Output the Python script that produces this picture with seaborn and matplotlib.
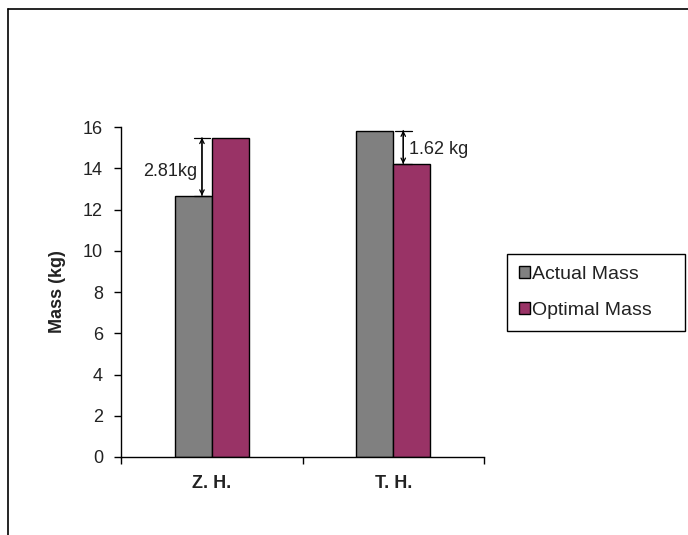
import matplotlib.pyplot as plt
import pandas as pd
import seaborn as sns
from matplotlib.lines import Line2D

categories = ["Z. H.", "T. H."]
series = ["Actual Mass", "Optimal Mass"]
actual_mass = [12.67, 15.83]
optimal_mass = [15.48, 14.21]
gap_labels = ["2.81kg", "1.62 kg"]
y_ticks = [0, 2, 4, 6, 8, 10, 12, 14, 16]

colors = {"Actual Mass": "#808080", "Optimal Mass": "#993366"}

df = pd.DataFrame({
    "category": categories * 2,
    "series": [series[0]] * 2 + [series[1]] * 2,
    "mass": actual_mass + optimal_mass,
})

sns.set_theme(style="white")
plt.rcParams["font.family"] = ["Liberation Sans", "DejaVu Sans"]

FS = 13

fig = plt.figure(figsize=(6.88, 5.35), dpi=100)
ax = fig.add_axes([0.1759, 0.1458, 0.5276, 0.6168])

sns.barplot(
    data=df, x="category", y="mass", hue="series", order=categories,
    hue_order=series, palette=colors, width=0.41, edgecolor="black",
    linewidth=1.0, saturation=1.0, ax=ax, legend=True,
)

ax.set_ylim(0, 16)
ax.set_xlim(-0.5, 1.5)
ax.set_yticks(y_ticks)
ax.set_yticklabels([str(t) for t in y_ticks], fontsize=FS, color="#222222")
ax.set_xticks([0, 1])
ax.set_xticklabels(categories, fontsize=FS, fontweight="bold", color="#222222")
ax.set_xlabel("")
ax.set_ylabel("Mass (kg)", fontsize=FS, fontweight="bold", labelpad=12,
              color="#222222")

# category boundary ticks on the x axis
ax.set_xticks([-0.5, 0.5, 1.5], minor=True)
ax.tick_params(axis="x", which="major", length=0, pad=13)
ax.tick_params(axis="x", which="minor", length=5, width=1, direction="out",
               color="black", bottom=True)
ax.tick_params(axis="y", length=5, width=1, direction="out", color="black",
               left=True, pad=8)

for side in ["top", "right"]:
    ax.spines[side].set_visible(False)
for side in ["left", "bottom"]:
    ax.spines[side].set_color("black")
    ax.spines[side].set_linewidth(1.0)

# gap annotations
arrow_x = [-0.054, 1.055]
for i in range(len(categories)):
    lo = min(actual_mass[i], optimal_mass[i])
    hi = max(actual_mass[i], optimal_mass[i])
    for style in ["<->", "|-|"]:
        ax.annotate("", xy=(arrow_x[i], hi), xytext=(arrow_x[i], lo),
                    arrowprops=dict(arrowstyle=style, color="black", lw=0.9,
                                    shrinkA=0, shrinkB=0,
                                    mutation_scale=6 if style == "|-|" else 8))
ax.text(arrow_x[0] - 0.025, (actual_mass[0] + optimal_mass[0]) / 2 - 0.25,
        gap_labels[0], ha="right", va="center", fontsize=FS, color="#222222")
ax.text(arrow_x[1] + 0.03, (actual_mass[1] + optimal_mass[1]) / 2 - 0.1,
        gap_labels[1], ha="left", va="center", fontsize=FS, color="#222222")

handles, labels = ax.get_legend_handles_labels()
ax.get_legend().remove()
leg = fig.legend(handles, labels, loc="upper left", mode="expand",
                 bbox_to_anchor=(507 / 688, 1 - 254 / 535, 178 / 688, 0),
                 fontsize=14, frameon=True, fancybox=False, edgecolor="black",
                 framealpha=1, handlelength=0.6, handleheight=0.6,
                 handletextpad=0.1, borderpad=0.6, labelspacing=1.0,
                 borderaxespad=0)
for t in leg.get_texts():
    t.set_color("#222222")
leg.get_frame().set_linewidth(1.0)

# page frame
fig.add_artist(Line2D([8 / 688, 1], [1 - 9 / 535, 1 - 9 / 535],
                      transform=fig.transFigure, color="black", lw=1.2))
fig.add_artist(Line2D([8 / 688, 8 / 688], [0, 1 - 9 / 535],
                      transform=fig.transFigure, color="black", lw=1.2))

fig.savefig("out.png", dpi=100)
